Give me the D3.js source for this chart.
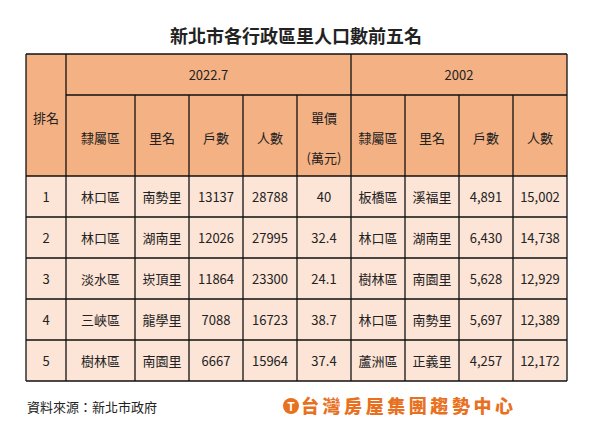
<!DOCTYPE html><html><head><meta charset="utf-8"><script src="https://cdn.jsdelivr.net/npm/d3@7"></script>
<style>body{margin:0;background:#fff}</style></head><body><svg id="c" width="597" height="435"></svg><script>
const title="新北市各行政區里人口數前五名";
const groups=["2022.7","2002"];
const headers=["隸屬區","里名","戶數","人數","單價\n(萬元)","隸屬區","里名","戶數","人數"];
const ranks=["1","2","3","4","5"];
const dist22=["林口區","林口區","淡水區","三峽區","樹林區"];
const vill22=["南勢里","湖南里","崁頂里","龍學里","南園里"];
const hh22=["13137","12026","11864","7088","6667"];
const pop22=["28788","27995","23300","16723","15964"];
const price22=["40","32.4","24.1","38.7","37.4"];
const dist02=["板橋區","林口區","樹林區","林口區","蘆洲區"];
const vill02=["溪福里","湖南里","南園里","南勢里","正義里"];
const hh02=["4,891","6,430","5,628","5,697","4,257"];
const pop02=["15,002","14,738","12,929","12,389","12,172"];
(function(){
const svg=d3.select("#c");
const font="'Noto Sans CJK TC',sans-serif";
const colX=[26,66,135,189,243,297,351,405,459,513,567];
const tY=54,h1=95,h2=176,bottom=381;
const y=d3.scaleBand().domain(ranks).range([h2,bottom]);
svg.append("text").attr("x",296).attr("y",43).attr("text-anchor","middle").attr("font-family",font).attr("font-weight","bold").attr("font-size",18).attr("fill","#222").text(title);
const hc="#F4B183",bc="#FCE4D6";
svg.append("rect").attr("x",colX[0]).attr("y",tY).attr("width",colX[10]-colX[0]).attr("height",h2-tY).attr("fill",hc);
svg.append("rect").attr("x",colX[0]).attr("y",h2).attr("width",colX[10]-colX[0]).attr("height",bottom-h2).attr("fill",bc);
const L=svg.append("g").attr("stroke","#111").attr("stroke-width",1.3);
function ln(a,b,c,d){L.append("line").attr("x1",a).attr("y1",b).attr("x2",c).attr("y2",d);}
ln(colX[0],tY,colX[10],tY);ln(colX[1],h1,colX[10],h1);
[h2,...ranks.map(r=>y(r)+y.bandwidth())].forEach(v=>ln(colX[0],v,colX[10],v));
colX.forEach((c,i)=>{let y0=(i==0||i==1||i==6||i==10)?tY:h1;ln(c,y0,c,bottom);});
const T=(tx,cx,cy)=>svg.append("text").attr("x",cx).attr("y",cy).attr("text-anchor","middle").attr("dominant-baseline","central").attr("font-family",font).attr("font-size",13).attr("fill","#222").text(tx);
T(groups[0],(colX[1]+colX[6])/2,(tY+h1)/2);T(groups[1],(colX[6]+colX[10])/2,(tY+h1)/2);
T("排名",(colX[0]+colX[1])/2,117);
headers.forEach((hd,i)=>{const cx=(colX[i+1]+colX[i+2])/2;const p=hd.split("\n");if(p.length>1){T(p[0],cx,117);T(p[1],cx,157);}else T(hd,cx,137);});
const cols=[ranks,dist22,vill22,hh22,pop22,price22,dist02,vill02,hh02,pop02];
cols.forEach((arr,i)=>arr.forEach((v,j)=>T(v,(colX[i]+colX[i+1])/2,y(ranks[j])+y.bandwidth()/2)));
svg.append("text").attr("x",27).attr("y",412).attr("font-family",font).attr("font-size",13).attr("fill","#222").text("資料來源：新北市政府");
const lg=svg.append("g");
lg.append("circle").attr("cx",291).attr("cy",406).attr("r",8).attr("fill","#E8711F");
lg.append("text").attr("x",291).attr("y",411).attr("text-anchor","middle").attr("font-family",font).attr("font-weight","bold").attr("font-size",12).attr("fill","#fff").text("T");
lg.append("text").attr("x",301).attr("y",413).attr("font-family",font).attr("font-weight","900").attr("font-size",18).attr("fill","#E8711F").attr("textLength",212).text("台灣房屋集團趨勢中心");
})();
</script></body></html>
